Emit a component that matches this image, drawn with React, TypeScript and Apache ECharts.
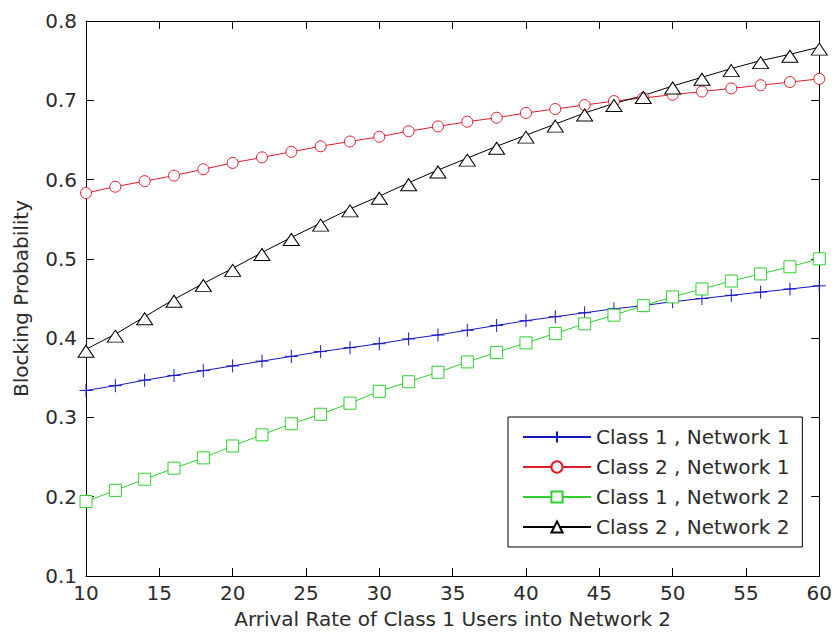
import React, { useEffect, useRef } from "react";
import * as echarts from "echarts";

const arrivalRates = [10, 12, 14, 16, 18, 20, 22, 24, 26, 28, 30, 32, 34, 36, 38, 40, 42, 44, 46, 48, 50, 52, 54, 56, 58, 60];

const class1Network1 = [0.334, 0.340, 0.347, 0.353, 0.359, 0.365, 0.371, 0.377, 0.383, 0.388, 0.393, 0.399, 0.404, 0.410, 0.416, 0.422, 0.427, 0.432, 0.437, 0.441, 0.446, 0.450, 0.454, 0.458, 0.462, 0.466];
const class2Network1 = [0.583, 0.591, 0.598, 0.605, 0.613, 0.621, 0.628, 0.635, 0.642, 0.648, 0.654, 0.661, 0.667, 0.673, 0.678, 0.684, 0.689, 0.694, 0.699, 0.703, 0.707, 0.711, 0.715, 0.719, 0.723, 0.727];
const class1Network2 = [0.194, 0.208, 0.222, 0.236, 0.249, 0.264, 0.278, 0.292, 0.304, 0.318, 0.333, 0.345, 0.357, 0.370, 0.382, 0.394, 0.406, 0.418, 0.429, 0.441, 0.452, 0.462, 0.472, 0.481, 0.490, 0.500];
const class2Network2 = [0.386, 0.405, 0.427, 0.449, 0.469, 0.488, 0.508, 0.527, 0.545, 0.563, 0.579, 0.596, 0.612, 0.627, 0.642, 0.656, 0.670, 0.684, 0.696, 0.706, 0.718, 0.729, 0.740, 0.750, 0.758, 0.767];

const seriesNames = ["Class 1 , Network 1", "Class 2 , Network 1", "Class 1 , Network 2", "Class 2 , Network 2"];
const xAxisTitle = "Arrival Rate of Class 1 Users into Network 2";
const yAxisTitle = "Blocking Probability";

const FONT = "DejaVu Sans";
const TEXT = "#2b2b2b";

const pair = (ys: number[]) => arrivalRates.map((x, i) => [x, ys[i]]);

export default function App() {
  const ref = useRef<HTMLDivElement>(null);
  useEffect(() => {
    if (!ref.current) return;
    const chart = echarts.init(ref.current, undefined, { renderer: "svg" });
    const baseAxisLine = { show: true, lineStyle: { color: "#000", width: 1 } };
    const tick = { show: true, inside: true, length: 8, lineStyle: { color: "#000", width: 1 } };
    const mk = (name: string, data: number[], color: string, symbol: string, size: any, extra: any = {}) => ({
      type: "line",
      name,
      data: pair(data),
      symbol,
      symbolSize: size,
      showSymbol: true,
      lineStyle: { color, width: 1 },
      itemStyle: { color: "#fff", borderColor: color, borderWidth: 1 },
      emphasis: { disabled: true },
      z: 3,
      ...extra,
    });
    chart.setOption({
      animation: false,
      backgroundColor: "#fff",
      grid: { left: 86, right: 12, top: 21, bottom: 58, containLabel: false },
      xAxis: [
        {
          type: "value",
          min: 10,
          max: 60,
          interval: 5,
          axisLine: baseAxisLine,
          axisTick: tick,
          splitLine: { show: false },
          axisLabel: { color: TEXT, fontFamily: FONT, fontSize: 20, margin: 7 },
          name: xAxisTitle,
          nameLocation: "middle",
          nameGap: 33,
          nameTextStyle: { color: TEXT, fontFamily: FONT, fontSize: 20 },
        },
        {
          type: "value",
          position: "top",
          min: 10,
          max: 60,
          interval: 5,
          axisLine: baseAxisLine,
          axisTick: tick,
          splitLine: { show: false },
          axisLabel: { show: false },
        },
      ],
      yAxis: [
        {
          type: "value",
          min: 0.1,
          max: 0.8,
          interval: 0.1,
          axisLine: baseAxisLine,
          axisTick: tick,
          splitLine: { show: false },
          axisLabel: {
            color: TEXT,
            fontFamily: FONT,
            fontSize: 20,
            margin: 9,
            formatter: (v: number) => v.toFixed(1),
          },
          name: yAxisTitle,
          nameLocation: "middle",
          nameGap: 55,
          nameTextStyle: { color: TEXT, fontFamily: FONT, fontSize: 20 },
        },
        {
          type: "value",
          position: "right",
          min: 0.1,
          max: 0.8,
          interval: 0.1,
          axisLine: baseAxisLine,
          axisTick: tick,
          splitLine: { show: false },
          axisLabel: { show: false },
        },
      ],
      legend: {
        orient: "vertical",
        left: 508,
        top: 417,
        padding: [10, 13, 10, 14],
        itemGap: 10,
        itemWidth: 68,
        itemHeight: 14,
        borderColor: "#000",
        borderWidth: 1,
        borderRadius: 0,
        backgroundColor: "#fff",
        textStyle: { color: TEXT, fontFamily: FONT, fontSize: 20 },
        data: seriesNames,
      },
      series: [
        mk(seriesNames[0], class1Network1, "#1515c8", "path://M6 0 L6 12 M0 6 L12 6", 13),
        mk(seriesNames[1], class2Network1, "#dd1c2a", "circle", 11),
        mk(seriesNames[2], class1Network2, "#2ed12e", "rect", 12),
        mk(seriesNames[3], class2Network2, "#000000", "triangle", [16, 12], { symbolOffset: [0, 2] }),
      ],
    });
    return () => chart.dispose();
  }, []);
  return (
    <div
      ref={ref}
      style={{ position: "fixed", left: 0, top: 0, width: 835, height: 634, background: "#fff" }}
    />
  );
}
